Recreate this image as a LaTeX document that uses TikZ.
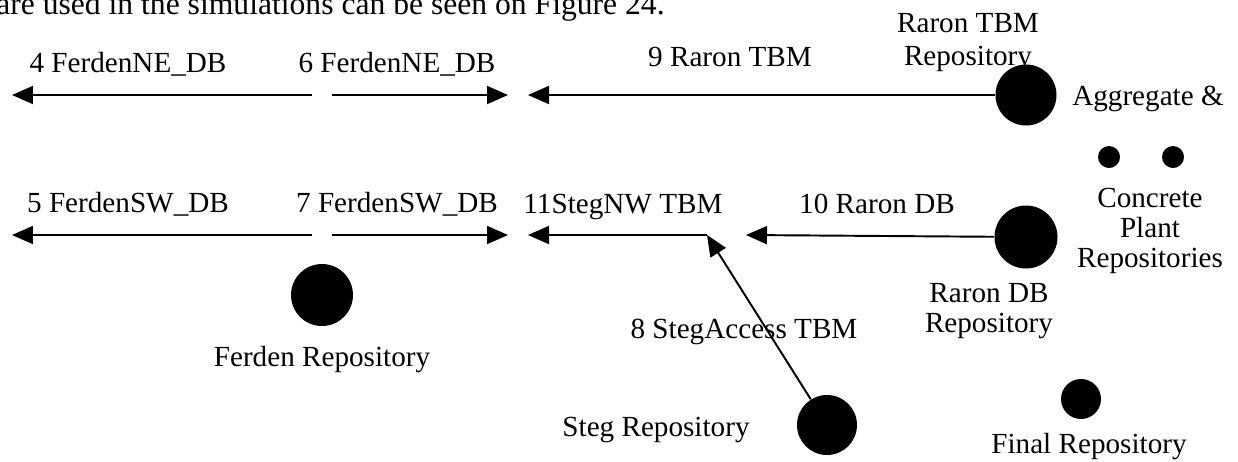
\documentclass[tikz,border=0pt]{standalone}
\usepackage{fontspec}
\setmainfont{Liberation Serif}
\usetikzlibrary{arrows.meta}

\begin{document}
\begin{tikzpicture}[x=0.02cm,y=-0.02cm,lbl/.style={font=\fontsize{16.6}{17}\selectfont,inner sep=0pt},repo/.style={circle,fill=black,inner sep=0pt,minimum size=#1*0.02cm},flow/.style={line width=1.1pt,-{Triangle[length=0.42cm,width=0.36cm]}}]
\useasboundingbox (0,0) rectangle (1238,461);
\node[font=\fontsize{18}{20}\selectfont,inner sep=0pt,anchor=base east] (intro) at (665,14) {are used in the simulations can be seen on Figure 24.};
\foreach \y/\d/\a/\b in %
{95/NE/4/6,235/SW/5/7} {
   \coordinate (l\d) at (12,\y);
   \coordinate (m\d) at (312,\y);
   \coordinate (n\d) at (332,\y);
   \coordinate (r\d) at (508,\y);
   \draw[flow] (m\d) -- (l\d);
   \draw[flow] (n\d) -- (r\d);
   \node[lbl,anchor=base] (lbl\a) at (128,\y-23) {\a{} Ferden\d\_DB};
   \node[lbl,anchor=base] (lbl\b) at (397,\y-23) {\b{} Ferden\d\_DB};
}
\node[repo=61] (rtbm) at (1026,95) {};
\node[repo=63] (rdb) at (1026,237) {};
\node[repo=62] (ferden) at (322,295) {};
\node[repo=60] (steg) at (827,425) {};
\node[repo=40] (final) at (1081,399) {};
\node[repo=22] (agg1) at (1109,157) {};
\node[repo=22] (agg2) at (1173,157) {};
\coordinate (t9) at (528,95);
\coordinate (t11) at (528,235);
\coordinate (t10) at (746,235);
\coordinate (j8) at (707,235);
\draw[flow] (rtbm) -- (t9);
\draw[flow] (rdb) -- (t10);
\draw[flow] (j8) -- (t11);
\draw[flow] (steg) -- (j8);
\node[lbl,anchor=base] (lbl9) at (730,66) {9 Raron TBM};
\node[lbl,anchor=base] (lbl11) at (623,213) {11StegNW TBM};
\node[lbl,anchor=base] (lbl10) at (877,213) {10 Raron DB};
\node[lbl,anchor=base] (lbl8) at (744,338) {8 StegAccess TBM};
\node[lbl,align=center,anchor=north] (rtbmtxt) at (968,13) {Raron TBM\\[2pt]Repository};
\node[lbl,anchor=base] (aggtxt) at (1148,105) {Aggregate \&};
\node[lbl,align=center,anchor=north] (cptxt) at (1150,188) {Concrete\\Plant\\Repositories};
\node[lbl,align=center,anchor=north] (rdbtxt) at (989,283) {Raron DB\\Repository};
\node[lbl,anchor=north] (ferdentxt) at (322,346) {Ferden Repository};
\node[lbl,anchor=north] (stegtxt) at (656,417) {Steg Repository};
\node[lbl,anchor=north] (finaltxt) at (1089,433) {Final Repository};
\end{tikzpicture}
\end{document}
